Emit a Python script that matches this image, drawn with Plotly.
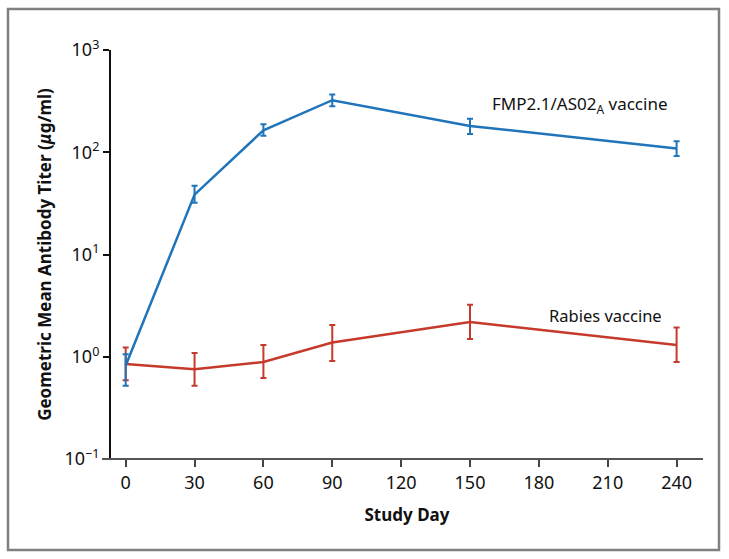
import plotly.graph_objs as go

days = [0, 30, 60, 90, 150, 240]

fmp_gmt = [0.82, 38.5, 164, 323, 181, 109]
fmp_upper = [1.06, 47, 188, 367, 213, 128]
fmp_lower = [0.52, 32, 145, 281, 151, 92]

rabies_gmt = [0.85, 0.755, 0.89, 1.38, 2.19, 1.30]
rabies_upper = [1.23, 1.09, 1.30, 2.04, 3.23, 1.93]
rabies_lower = [0.59, 0.52, 0.62, 0.91, 1.49, 0.89]

x_ticks = [0, 30, 60, 90, 120, 150, 180, 210, 240]
y_ticks = [0.1, 1, 10, 100, 1000]
y_ticktext = ["10<sup>\u22121</sup>", "10<sup>0</sup>", "10<sup>1</sup>", "10<sup>2</sup>", "10<sup>3</sup>"]

BLUE = "#1f74ba"
RED = "#c63a2c"
FONT = "Noto Sans"


def err(values, upper, lower):
    return {
        "type": "data",
        "symmetric": False,
        "array": [u - v for u, v in zip(upper, values)],
        "arrayminus": [v - l for v, l in zip(values, lower)],
        "thickness": 2,
        "width": 3,
    }


fig = go.Figure()
fig.add_trace(
    go.Scatter(
        x=days, y=rabies_gmt, mode="lines",
        line={"color": RED, "width": 2.5},
        error_y={**err(rabies_gmt, rabies_upper, rabies_lower), "color": RED},
        showlegend=False,
    )
)
fig.add_trace(
    go.Scatter(
        x=days, y=fmp_gmt, mode="lines",
        line={"color": BLUE, "width": 2.5},
        error_y={**err(fmp_gmt, fmp_upper, fmp_lower), "color": BLUE},
        showlegend=False,
    )
)

fig.add_annotation(x=237, y=2.468, xref="x", yref="y", text="FMP2.1/AS02<sub>A</sub> vaccine",
                   showarrow=False, xanchor="right", yanchor="middle",
                   font={"size": 17, "color": "#111", "family": FONT})
fig.add_annotation(x=234.5, y=0.407, xref="x", yref="y", text="Rabies vaccine",
                   showarrow=False, xanchor="right", yanchor="middle",
                   font={"size": 16.5, "color": "#111", "family": FONT})

fig.update_layout(
    width=729, height=559,
    margin={"l": 111, "r": 26, "t": 50, "b": 100},
    paper_bgcolor="white", plot_bgcolor="white",
    font={"family": FONT, "color": "#111"},
    shapes=[
        # outer frame
        {"type": "rect", "xref": "paper", "yref": "paper",
         "x0": (8 - 111) / 592, "x1": (719 - 111) / 592,
         "y0": (459 - 550) / 409, "y1": 1 + (50 - 9) / 409,
         "line": {"color": "#808080", "width": 2.5}},
        # x axis line
        {"type": "line", "xref": "paper", "yref": "paper",
         "x0": (102 - 111) / 592, "x1": 1, "y0": 0, "y1": 0,
         "line": {"color": "#555", "width": 2}},
    ],
)
fig.update_xaxes(
    range=[-6.4, 251.5], tickvals=x_ticks, ticks="outside", ticklen=7, tickwidth=1.5,
    tickcolor="#444", showline=False, showgrid=False, zeroline=False,
    tickfont={"size": 18, "family": FONT},
    title={"text": "<b>Study Day</b>", "font": {"size": 17, "family": FONT}, "standoff": 16},
)
fig.update_yaxes(
    type="log", range=[-1, 3], tickvals=y_ticks, ticktext=y_ticktext,
    ticks="outside", ticklen=6, tickwidth=1.5, tickcolor="#111",
    showline=True, linecolor="#111", linewidth=2, showgrid=False, zeroline=False,
    tickfont={"size": 18, "family": FONT},
    title={"text": "<b>Geometric Mean Antibody Titer (<i>\u03bc</i>g/ml)</b>",
           "font": {"size": 17, "family": FONT}, "standoff": 8},
)

fig.write_html(
    "out.html",
    config={"displayModeBar": False},
    post_script="document.body.style.margin='0';window.dispatchEvent(new Event('resize'));",
)
